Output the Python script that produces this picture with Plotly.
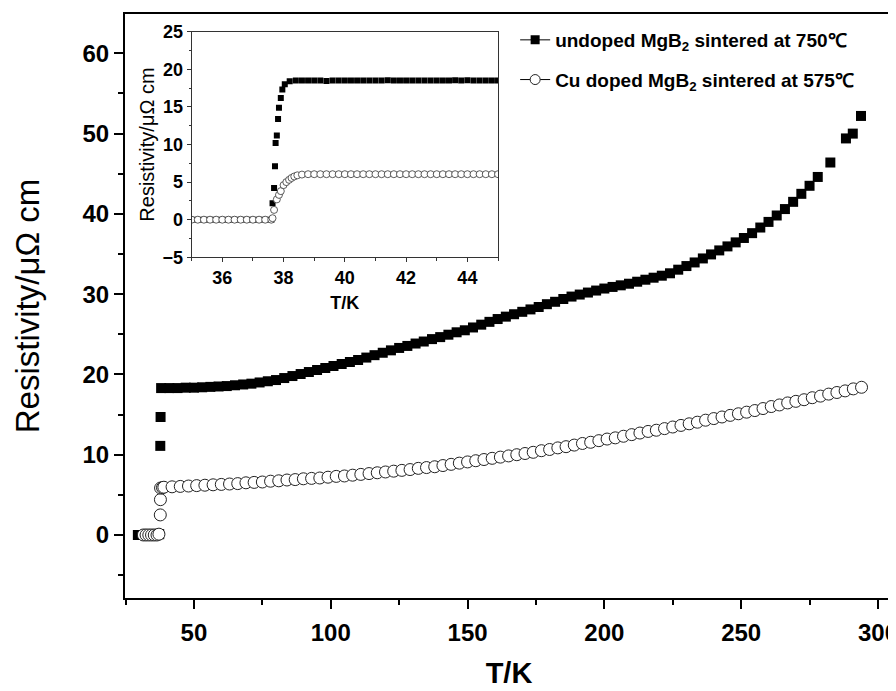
import plotly.graph_objects as go

# ---------------- main panel data ----------------
main_sq_T = [29.5, 30.5, 31.5, 32.5, 33.5, 34.5, 35.5, 36.5, 37.3, 37.7, 37.8, 38.0,
             41, 44, 47, 50, 53, 56, 59, 62, 65, 68, 71, 74, 77, 80, 83, 86, 89, 92, 95, 98,
             101, 104, 107, 110, 113, 116, 119, 122, 125, 128, 131, 134, 137, 140, 143, 146, 149,
             152, 155, 158, 161, 164, 167, 170, 173, 176, 179, 182, 185, 188, 191, 194, 197, 200,
             203, 206, 209, 212, 215, 218, 221, 224, 227, 230, 233, 236, 239, 242, 245, 248, 251,
             254, 257, 260, 263, 266, 269, 272, 275, 278, 282.6, 288.3, 290.8, 293.8]
main_sq_v = [0.0, 0.0, 0.0, 0.0, 0.0, 0.0, 0.0, 0.0, 0.1, 11.1, 14.7, 18.3,
             18.3, 18.3, 18.35, 18.35, 18.4, 18.45, 18.5, 18.55, 18.65, 18.75, 18.85, 19.0, 19.15,
             19.3, 19.55, 19.8, 20.05, 20.3, 20.55, 20.8,
             21.05, 21.3, 21.55, 21.8, 22.1, 22.4, 22.7, 23.0, 23.3, 23.55, 23.85, 24.1, 24.4, 24.65,
             24.95, 25.25, 25.5,
             25.85, 26.2, 26.55, 26.9, 27.2, 27.5, 27.8, 28.1, 28.4, 28.75, 29.05, 29.4, 29.7, 29.95,
             30.2, 30.45, 30.7,
             30.9, 31.1, 31.3, 31.55, 31.8, 32.05, 32.3, 32.6, 33.05, 33.5, 33.95, 34.45, 34.95,
             35.45, 35.95, 36.45, 37.0,
             37.6, 38.3, 39.0, 39.8, 40.6, 41.5, 42.5, 43.5, 44.6, 46.4, 49.4, 50.0, 52.2]

main_ci_T = [31.5, 32.5, 33.5, 34.5, 35.5, 36.5, 37.2, 37.7, 37.75, 37.8, 38.5,
             39, 42, 45, 48, 51, 54, 57, 60, 63, 66, 69, 72, 75, 78, 81, 84, 87, 90, 93, 96, 99,
             102, 105, 108, 111, 114, 117, 120, 123, 126, 129, 132, 135, 138, 141, 144, 147, 150,
             153, 156, 159, 162, 165, 168, 171, 174, 177, 180, 183, 186, 189, 192, 195, 198, 201,
             204, 207, 210, 213, 216, 219, 222, 225, 228, 231, 234, 237, 240, 243, 246, 249, 252,
             255, 258, 261, 264, 267, 270, 273, 276, 279, 282, 285, 288, 291, 294]
main_ci_v = [0.0, 0.0, 0.0, 0.0, 0.0, 0.0, 0.1, 2.5, 4.4, 5.85, 5.9,
             5.95, 6.0, 6.05, 6.1, 6.15, 6.2, 6.25, 6.3, 6.35, 6.4, 6.5, 6.55, 6.6, 6.7, 6.75, 6.85,
             6.9, 7.0, 7.05, 7.1, 7.2,
             7.3, 7.35, 7.45, 7.55, 7.65, 7.75, 7.85, 7.95, 8.05, 8.15, 8.3, 8.4, 8.5, 8.65, 8.8,
             8.95, 9.1,
             9.25, 9.4, 9.55, 9.7, 9.85, 10.0, 10.15, 10.3, 10.5, 10.65, 10.85, 11.0, 11.2, 11.4,
             11.55, 11.75, 11.95,
             12.1, 12.3, 12.5, 12.7, 12.9, 13.05, 13.25, 13.45, 13.65, 13.85, 14.05, 14.3, 14.5,
             14.7, 14.9, 15.1, 15.3,
             15.5, 15.75, 16.0, 16.2, 16.45, 16.65, 16.85, 17.1, 17.3, 17.55, 17.75, 17.95, 18.2, 18.4]

# ---------------- inset data ----------------
ins_sq_T = [35.0, 35.2, 35.4, 35.6, 35.8, 36.0, 36.2, 36.4, 36.6, 36.8, 37.0, 37.2, 37.4, 37.6,
            37.64, 37.69, 37.72, 37.74, 37.78, 37.82, 37.85, 37.91, 37.96, 38.04,
            38.2, 38.4, 38.6, 38.8, 39.0, 39.2, 39.4, 39.6, 39.8, 40.0, 40.2, 40.4, 40.6, 40.8,
            41.0, 41.2, 41.4, 41.6, 41.8, 42.0, 42.2, 42.4, 42.6, 42.8, 43.0, 43.2, 43.4, 43.6,
            43.8, 44.0, 44.2, 44.4, 44.6, 44.8, 45.0]
ins_sq_v = [0.0, 0.0, 0.0, 0.0, 0.0, 0.0, 0.0, 0.0, 0.0, 0.0, 0.0, 0.0, 0.0, 0.0,
            2.2, 4.2, 7.1, 10.2, 11.2, 13.4, 14.9, 16.2, 17.3, 18.0,
            18.4, 18.5, 18.5, 18.5, 18.5, 18.5, 18.45, 18.5, 18.5, 18.5, 18.5, 18.5, 18.5, 18.5,
            18.5, 18.5, 18.55, 18.5, 18.5, 18.5, 18.5, 18.5, 18.5, 18.5, 18.5, 18.5, 18.5, 18.55,
            18.5, 18.55, 18.5, 18.5, 18.5, 18.5, 18.5]

ins_ci_T = [35.0, 35.2, 35.4, 35.6, 35.8, 36.0, 36.2, 36.4, 36.6, 36.8, 37.0, 37.2, 37.4, 37.6,
            37.64, 37.69, 37.78, 37.85, 37.91, 38.0, 38.09, 38.18, 38.26, 38.35, 38.45,
            38.6, 38.8, 39.0, 39.2, 39.4, 39.6, 39.8, 40.0, 40.2, 40.4, 40.6, 40.8,
            41.0, 41.2, 41.4, 41.6, 41.8, 42.0, 42.2, 42.4, 42.6, 42.8, 43.0, 43.2, 43.4, 43.6,
            43.8, 44.0, 44.2, 44.4, 44.6, 44.8, 45.0]
ins_ci_v = [0.0, 0.0, 0.0, 0.0, 0.0, 0.0, 0.0, 0.0, 0.0, 0.0, 0.0, 0.0, 0.0, 0.0,
            0.2, 1.3, 2.7, 3.3, 3.8, 4.6, 5.0, 5.3, 5.55, 5.75, 5.9,
            6.0, 6.05, 6.05, 6.05, 6.05, 6.05, 6.05, 6.05, 6.05, 6.05, 6.05, 6.05,
            6.05, 6.05, 6.05, 6.05, 6.05, 6.05, 6.05, 6.05, 6.05, 6.05, 6.05, 6.05, 6.05, 6.05,
            6.05, 6.05, 6.05, 6.05, 6.05, 6.05, 6.05]

legend_names = ["undoped MgB<sub>2</sub> sintered at 750\u2103",
                "Cu doped MgB<sub>2</sub> sintered at 575\u2103"]

FONT = "Liberation Sans, Arial, sans-serif"

fig = go.Figure()

# main panel
fig.add_trace(go.Scatter(x=main_sq_T, y=main_sq_v, mode="markers", showlegend=False,
                         marker=dict(symbol="square", size=10, color="black",
                                     line=dict(width=0)), xaxis="x", yaxis="y"))
fig.add_trace(go.Scatter(x=main_ci_T, y=main_ci_v, mode="markers", showlegend=False,
                         marker=dict(symbol="circle", size=12, color="white",
                                     line=dict(width=1, color="#222")), xaxis="x", yaxis="y"))
# inset
fig.add_trace(go.Scatter(x=ins_sq_T, y=ins_sq_v, mode="markers", showlegend=False,
                         marker=dict(symbol="square", size=6, color="black",
                                     line=dict(width=0)), xaxis="x2", yaxis="y2"))
fig.add_trace(go.Scatter(x=ins_ci_T, y=ins_ci_v, mode="markers", showlegend=False,
                         marker=dict(symbol="circle", size=7, color="white",
                                     line=dict(width=0.8, color="#333")), xaxis="x2", yaxis="y2"))
# legend entries
fig.add_trace(go.Scatter(x=[None], y=[None], mode="lines+markers", name=legend_names[0],
                         legendgroup="a",
                         marker=dict(symbol="square", size=9, color="black"),
                         line=dict(color="black", width=1)))
fig.add_trace(go.Scatter(x=[None], y=[None], mode="lines+markers", name=legend_names[1],
                         legendgroup="b",
                         marker=dict(symbol="circle", size=10, color="white",
                                     line=dict(width=1, color="#222")),
                         line=dict(color="black", width=1)))

# the page body has an 8px default margin, so the figure is sized to end at the window edge
fig.update_layout(
    width=888, height=683,
    margin=dict(l=117, r=3, t=6, b=93, autoexpand=False),
    paper_bgcolor="white", plot_bgcolor="white",
    font=dict(family=FONT, color="black"),
    showlegend=True,
    legend=dict(x=0.508, y=0.988, xanchor="left", yanchor="top",
                bgcolor="rgba(0,0,0,0)", borderwidth=0,
                font=dict(family=FONT, size=19, weight="bold"),
                tracegroupgap=12, itemwidth=30),
    xaxis=dict(domain=[0, 1], range=[24.8, 305.5], showline=True, linewidth=2,
               linecolor="black", mirror=True, ticks="outside", ticklen=9, tickwidth=2,
               tickcolor="black", tick0=0, dtick=50, showgrid=False, zeroline=False,
               automargin=False, ticklabeloverflow="allow",
               tickfont=dict(family=FONT, size=24, weight="bold"), ticklabelstandoff=3,
               minor=dict(ticks="outside", ticklen=5, tickwidth=2, dtick=25, tick0=0,
                          tickcolor="black", showgrid=False),
               title=dict(text="T/K", font=dict(family=FONT, size=29, weight="bold"),
                          standoff=18)),
    yaxis=dict(domain=[0, 1], range=[-7.85, 64.9], showline=True, linewidth=2,
               linecolor="black", mirror=True, ticks="outside", ticklen=9, tickwidth=2,
               tickcolor="black", tick0=0, dtick=10, showgrid=False, zeroline=False,
               automargin=False, ticklabeloverflow="allow",
               tickfont=dict(family=FONT, size=24, weight="bold"), ticklabelstandoff=0,
               minor=dict(ticks="outside", ticklen=5, tickwidth=2, dtick=5, tick0=0,
                          tickcolor="black", showgrid=False),
               title=dict(text="Resistivity/\u03bc\u03a9 cm", font=dict(family=FONT, size=33),
                          standoff=33)),
    xaxis2=dict(domain=[0.0868, 0.4857], anchor="y2", range=[35, 45], showline=True,
                linewidth=1, linecolor="#333", mirror=True, ticks="outside", ticklen=4,
                tickcolor="#333", tick0=0, dtick=2, showgrid=False, zeroline=False,
                automargin=False,
                tickfont=dict(family=FONT, size=18, weight="bold"),
                minor=dict(ticks="outside", ticklen=3, dtick=1, tick0=0, tickcolor="#333",
                           showgrid=False),
                title=dict(text="T/K", font=dict(family=FONT, size=18, weight="bold"),
                           standoff=9)),
    yaxis2=dict(domain=[0.5834, 0.9697], anchor="x2", range=[-5, 25], showline=True,
                linewidth=1, linecolor="#333", mirror=True, ticks="outside", ticklen=4,
                tickcolor="#333", tick0=0, dtick=5, showgrid=False, zeroline=False,
                automargin=False,
                tickfont=dict(family=FONT, size=18, weight="bold"),
                minor=dict(ticks="outside", ticklen=2, dtick=2.5, tick0=0, tickcolor="#333",
                           showgrid=False),
                title=dict(text="Resistivity/\u03bc\u03a9 cm", font=dict(family=FONT, size=20),
                           standoff=2)),
)

fig.write_html("out.html")
